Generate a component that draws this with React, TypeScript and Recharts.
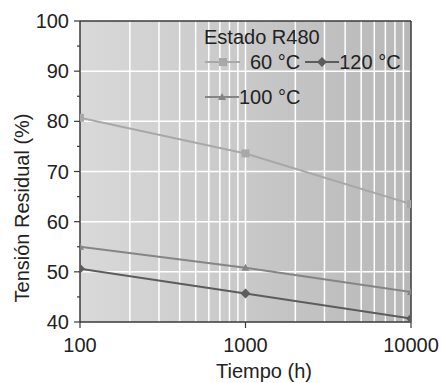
import { LineChart, Line, XAxis, YAxis, CartesianGrid, ReferenceLine } from "recharts";

const tiempos = [100, 1000, 10000];
const t60 = [80.7, 73.6, 63.5];
const t100 = [55.0, 50.8, 46.0];
const t120 = [50.6, 45.7, 40.7];

const xTicks = [100, 1000, 10000];
const yTicks = [40, 45, 50, 55, 60, 65, 70, 75, 80, 85, 90, 95, 100];
const vGrid = [200, 300, 400, 500, 600, 700, 800, 900, 1000, 2000, 3000, 4000, 5000, 6000, 7000, 8000, 9000];
const hGrid = [50, 60, 70, 80, 90];

const data = tiempos.map((t, i) => ({ t, a: t60[i], b: t100[i], c: t120[i] }));

const FONT = "'Liberation Sans', Arial, sans-serif";
const AXIS = "#3a3a3a";

const C60 = "#a8a8a8";
const C100 = "#858585";
const C120 = "#5c5c5c";

function Square(p: any) {
  return <rect x={p.cx - 4} y={p.cy - 4} width={8} height={8} fill={C60} />;
}
function Tri(p: any) {
  return <polygon points={`${p.cx},${p.cy - 4} ${p.cx - 4},${p.cy + 3} ${p.cx + 4},${p.cy + 3}`} fill={C100} />;
}
function Diamond(p: any) {
  return <polygon points={`${p.cx},${p.cy - 5} ${p.cx + 5},${p.cy} ${p.cx},${p.cy + 5} ${p.cx - 5},${p.cy}`} fill={C120} />;
}

function YTick(p: any) {
  const v = p.payload.value;
  const major = v % 10 === 0;
  return (
    <g>
      <line x1={p.x} x2={p.x - (major ? 6 : 3)} y1={p.y} y2={p.y} stroke={AXIS} strokeWidth={1.2} />
      {major && (
        <text x={p.x - 11} y={p.y + 7} textAnchor="end" fontSize={20} fontFamily={FONT} fill="#222">
          {v}
        </text>
      )}
    </g>
  );
}

function XTick(p: any) {
  return (
    <g>
      <line x1={p.x} x2={p.x} y1={p.y} y2={p.y + 6} stroke={AXIS} strokeWidth={1.2} />
      <text x={p.x} y={p.y + 30} textAnchor="middle" fontSize={20} fontFamily={FONT} fill="#222">
        {p.payload.value}
      </text>
    </g>
  );
}

function LegendBox() {
  const row: any = { display: "flex", alignItems: "center", height: 35 };
  const txt: any = { fontSize: 20, color: "#222", fontFamily: FONT, lineHeight: "20px" };
  const sample = (c: string, w: number, mk: any) => (
    <svg width={w} height={12} style={{ display: "block" }}>
      <line x1={0} x2={w} y1={6} y2={6} stroke={c} strokeWidth={2} />
      {mk}
    </svg>
  );
  return (
    <div style={{ position: "absolute", left: 196, top: 27, width: 220 }}>
      <div style={{ ...txt, marginLeft: 8, height: 22 }}>Estado R480</div>
      <div style={{ ...row, marginTop: -5 }}>
        <div style={{ marginLeft: 9 }}>
          {sample(C60, 35, <rect x={14} y={2} width={8} height={8} fill={C60} />)}
        </div>
        <span style={{ ...txt, marginLeft: 10 }}>60 °C</span>
        <div style={{ marginLeft: 5 }}>
          {sample(C120, 34, <polygon points="17,1 22,6 17,11 12,6" fill={C120} />)}
        </div>
        <span style={txt}>120 °C</span>
      </div>
      <div style={row}>
        <div style={{ marginLeft: 9 }}>
          {sample(C100, 34, <polygon points="17,2 13,9 21,9" fill={C100} />)}
        </div>
        <span style={txt}>100 °C</span>
      </div>
    </div>
  );
}

export default function App() {
  return (
    <div
      style={{
        position: "fixed",
        left: 0,
        top: 0,
        width: 442,
        height: 383,
        overflow: "hidden",
        background: "#fff",
      }}
    >
      <LineChart width={442} height={383} data={data} margin={{ top: 21, right: 31, left: 0, bottom: 0 }}>
        <defs>
          <linearGradient id="bg" x1="0" y1="0" x2="1" y2="0">
            <stop offset="0%" stopColor="#d9d9d9" />
            <stop offset="100%" stopColor="#b8b8b8" />
          </linearGradient>
        </defs>
        <CartesianGrid fill="url(#bg)" fillOpacity={1} horizontal={false} vertical={false} />
        {vGrid.map((v) => (
          <ReferenceLine key={"v" + v} x={v} stroke="#ffffff" strokeWidth={1.5} />
        ))}
        {hGrid.map((v) => (
          <ReferenceLine key={"h" + v} y={v} stroke="#ffffff" strokeWidth={1.5} />
        ))}
        <XAxis
          dataKey="t"
          type="number"
          scale="log"
          domain={[100, 10000]}
          ticks={xTicks}
          height={61}
          tickSize={0}
          tickMargin={0}
          tick={<XTick />}
          axisLine={{ stroke: AXIS, strokeWidth: 1.5 }}
          tickLine={false}
          allowDataOverflow
          label={{
            content: () => (
              <text x={264} y={378} textAnchor="middle" fontSize={20} fontFamily={FONT} fill="#222">
                Tiempo (h)
              </text>
            ),
          }}
        />
        <YAxis
          type="number"
          domain={[40, 100]}
          ticks={yTicks}
          interval={0}
          width={80}
          tickSize={0}
          tickMargin={0}
          tick={<YTick />}
          axisLine={{ stroke: AXIS, strokeWidth: 1.5 }}
          tickLine={false}
          allowDataOverflow
          label={{
            content: () => (
              <text
                x={29}
                y={208}
                transform="rotate(-90, 29, 208)"
                textAnchor="middle"
                fontSize={20}
                fontFamily={FONT}
                fill="#222"
              >
                Tensión Residual (%)
              </text>
            ),
          }}
        />
        <ReferenceLine y={100} stroke={AXIS} strokeWidth={1.5} />
        <ReferenceLine x={10000} stroke={AXIS} strokeWidth={1.5} />
        <Line dataKey="a" stroke={C60} strokeWidth={2} dot={<Square />} isAnimationActive={false} />
        <Line dataKey="b" stroke={C100} strokeWidth={2} dot={<Tri />} isAnimationActive={false} />
        <Line dataKey="c" stroke={C120} strokeWidth={2} dot={<Diamond />} isAnimationActive={false} />
      </LineChart>
      <LegendBox />
    </div>
  );
}
